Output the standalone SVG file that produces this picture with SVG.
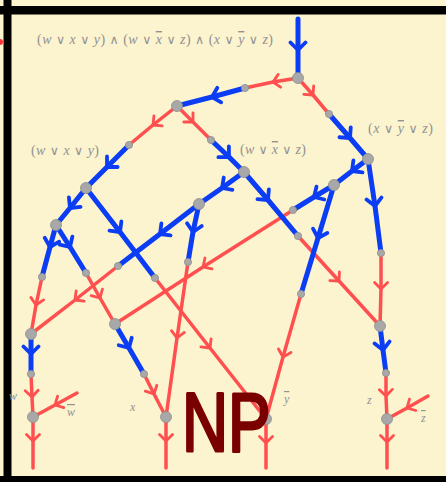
<svg xmlns="http://www.w3.org/2000/svg" width="446" height="482" viewBox="0 0 446 482">
<defs>
<style>
.b{fill:none;stroke:#0B3DF5;stroke-width:5;stroke-linecap:round;stroke-linejoin:round;marker-mid:url(#cb)}
.r{fill:none;stroke:#FF4F4F;stroke-width:3.5;stroke-linecap:round;stroke-linejoin:round;marker-mid:url(#cr)}
.big{fill:#A8A8A8;stroke:#8E8E8E;stroke-width:0.8}
.sm{fill:#A8A8A8;stroke:#8E8E8E;stroke-width:0.8}
.lbl{font-family:"Liberation Serif","DejaVu Serif",serif;fill:#929292}
.it{font-style:italic}
.ov{text-decoration:overline}
.op{font-size:0.9em}
.np{font-family:"Liberation Sans","DejaVu Sans",sans-serif;font-size:84px;fill:#7A0000;stroke:#7A0000;stroke-width:3;stroke-linejoin:round}
</style>
<marker id="cb" viewBox="-10 -10 20 20" markerWidth="20" markerHeight="20" refX="0" refY="0" orient="auto" markerUnits="userSpaceOnUse">
<path d="M-7.5,-7.5 L0,0 L-7.5,7.5" fill="none" stroke="#0B3DF5" stroke-width="3.8" stroke-linecap="round" stroke-linejoin="round"/>
</marker>
<marker id="cr" viewBox="-10 -10 20 20" markerWidth="20" markerHeight="20" refX="0" refY="0" orient="auto" markerUnits="userSpaceOnUse">
<path d="M-6.5,-6.5 L0,0 L-6.5,6.5" fill="none" stroke="#FF4F4F" stroke-width="2.8" stroke-linecap="round" stroke-linejoin="round"/>
</marker>
</defs>
<rect width="446" height="482" fill="#FCF3CF"/>
<rect x="0" y="6" width="446" height="8.5" fill="#000"/>
<rect x="3.5" y="0" width="8" height="482" fill="#000"/>
<rect x="0" y="476" width="446" height="6" fill="#000"/>
<circle cx="0" cy="42" r="3" fill="#FF3333"/>

<g id="labels" class="lbl">
<text x="37" y="44" font-size="14" textLength="236" lengthAdjust="spacing">(<tspan class="it">w</tspan> <tspan class="op">∨</tspan> <tspan class="it">x</tspan> <tspan class="op">∨</tspan> <tspan class="it">y</tspan>) <tspan class="op">∧</tspan> (<tspan class="it">w</tspan> <tspan class="op">∨</tspan> <tspan class="it ov">x</tspan> <tspan class="op">∨</tspan> <tspan class="it">z</tspan>) <tspan class="op">∧</tspan> (<tspan class="it">x</tspan> <tspan class="op">∨</tspan> <tspan class="it ov">y</tspan> <tspan class="op">∨</tspan> <tspan class="it">z</tspan>)</text>
<text x="31" y="155" font-size="14" textLength="68" lengthAdjust="spacing">(<tspan class="it">w</tspan> <tspan class="op">∨</tspan> <tspan class="it">x</tspan> <tspan class="op">∨</tspan> <tspan class="it">y</tspan>)</text>
<text x="240" y="154" font-size="14" textLength="66" lengthAdjust="spacing">(<tspan class="it">w</tspan> <tspan class="op">∨</tspan> <tspan class="it ov">x</tspan> <tspan class="op">∨</tspan> <tspan class="it">z</tspan>)</text>
<text x="368" y="133" font-size="14" textLength="65" lengthAdjust="spacing">(<tspan class="it">x</tspan> <tspan class="op">∨</tspan> <tspan class="it ov">y</tspan> <tspan class="op">∨</tspan> <tspan class="it">z</tspan>)</text>
<text x="9" y="400" font-size="12" class="it">w</text>
<text x="67" y="416" font-size="12" class="it ov">w</text>
<text x="130" y="411" font-size="12" class="it">x</text>
<text x="284" y="403" font-size="12" class="it ov">y</text>
<text x="367" y="404" font-size="12" class="it">z</text>
<text x="421" y="422" font-size="12" class="it ov">z</text>
</g>

<g id="connectors">
<path class="r" d="M298 78 L273 82 L245 88"/>
<path class="r" d="M298 78 L313 95 L329 114"/>
<path class="r" d="M177 106 L153 125 L129 145"/>
<path class="r" d="M177 106 L193 122 L211 140"/>
<path class="r" d="M42 277 L36 305 L31 334"/>
<path class="r" d="M86 273 L100 298 L115 324"/>
<path class="r" d="M118 266 L75 300 L31 334"/>
<path class="r" d="M188 262 L177 338 L166 417"/>
<path class="r" d="M155 278 L210 348 L266 419"/>
<path class="r" d="M293 210 L203 267 L115 324"/>
<path class="r" d="M298 236 L339 281 L380 326"/>
<path class="r" d="M301 294 L283 357 L266 419"/>
<path class="r" d="M381 253 L381 289 L380 326"/>
<path class="r" d="M31 374 L32 397 L33 417"/>
<path class="r" d="M144 374 L154 394 L166 417"/>
<path class="r" d="M386 373 L386 396 L387 419"/>
<path class="r" d="M77 393 L55 405 L33 417"/>
<path class="r" d="M428 396 L407 408 L387 419"/>
<path class="r" d="M33 417 L33 441 L33 468"/>
<path class="r" d="M166 417 L166 441 L166 468"/>
<path class="r" d="M266 419 L266 443 L266 468"/>
<path class="r" d="M387 419 L387 442 L387 468"/>

<path class="b" d="M298 19 L298 50 L298 78"/>
<path class="b" d="M245 88 L212 97 L177 106"/>
<path class="b" d="M329 114 L350 138 L368 159"/>
<path class="b" d="M129 145 L107 167 L86 188"/>
<path class="b" d="M211 140 L229 157 L244 172"/>
<path class="b" d="M86 188 L70 208 L56 225"/>
<path class="b" d="M86 188 L120 232 L155 278"/>
<path class="b" d="M56 225 L50 247 L42 277"/>
<path class="b" d="M56 225 L70 247 L86 273"/>
<path class="b" d="M244 172 L222 188 L199 204"/>
<path class="b" d="M244 172 L268 200 L298 236"/>
<path class="b" d="M199 204 L160 234 L118 266"/>
<path class="b" d="M199 204 L193 232 L188 262"/>
<path class="b" d="M368 159 L352 171 L334 185"/>
<path class="b" d="M368 159 L375 206 L381 253"/>
<path class="b" d="M334 185 L314 197 L293 210"/>
<path class="b" d="M334 185 L318 238 L301 294"/>
<path class="b" d="M31 334 L31 354 L31 374"/>
<path class="b" d="M115 324 L129 348 L144 374"/>
<path class="b" d="M380 326 L383 350 L386 373"/>
</g>

<g id="A"><circle class="big" cx="298" cy="78" r="5.5"/></g>
<g id="B"><circle class="big" cx="177" cy="106" r="5.5"/></g>
<g id="C"><circle class="big" cx="368" cy="159" r="5.5"/></g>
<g id="D"><circle class="big" cx="86" cy="188" r="5.5"/></g>
<g id="E"><circle class="big" cx="244" cy="172" r="5.5"/></g>
<g id="F"><circle class="big" cx="56" cy="225" r="5.5"/></g>
<g id="G"><circle class="big" cx="199" cy="204" r="5.5"/></g>
<g id="H"><circle class="big" cx="334" cy="185" r="5.5"/></g>
<g id="I"><circle class="big" cx="31" cy="334" r="5.5"/></g>
<g id="J"><circle class="big" cx="115" cy="324" r="5.5"/></g>
<g id="K"><circle class="big" cx="380" cy="326" r="5.5"/></g>
<g id="varW"><circle class="big" cx="33" cy="417" r="5.5"/></g>
<g id="varX"><circle class="big" cx="166" cy="417" r="5.5"/></g>
<g id="varY"><circle class="big" cx="266" cy="419" r="5.5"/></g>
<g id="varZ"><circle class="big" cx="387" cy="419" r="5.5"/></g>
<g id="d1"><circle class="sm" cx="245" cy="88" r="3.6"/></g>
<g id="d2"><circle class="sm" cx="329" cy="114" r="3.6"/></g>
<g id="d3"><circle class="sm" cx="129" cy="145" r="3.6"/></g>
<g id="d4"><circle class="sm" cx="211" cy="140" r="3.6"/></g>
<g id="d5"><circle class="sm" cx="42" cy="277" r="3.6"/></g>
<g id="d6"><circle class="sm" cx="86" cy="273" r="3.6"/></g>
<g id="d7"><circle class="sm" cx="118" cy="266" r="3.6"/></g>
<g id="d8"><circle class="sm" cx="188" cy="262" r="3.6"/></g>
<g id="d9"><circle class="sm" cx="155" cy="278" r="3.6"/></g>
<g id="d10"><circle class="sm" cx="293" cy="210" r="3.6"/></g>
<g id="d11"><circle class="sm" cx="298" cy="236" r="3.6"/></g>
<g id="d12"><circle class="sm" cx="301" cy="294" r="3.6"/></g>
<g id="d13"><circle class="sm" cx="381" cy="253" r="3.6"/></g>
<g id="d14"><circle class="sm" cx="31" cy="374" r="3.6"/></g>
<g id="d15"><circle class="sm" cx="144" cy="374" r="3.6"/></g>
<g id="d16"><circle class="sm" cx="386" cy="373" r="3.6"/></g>

<g id="np"><text class="np" transform="translate(182,451) scale(0.76,1)" x="0" y="0">NP</text></g>
</svg>
